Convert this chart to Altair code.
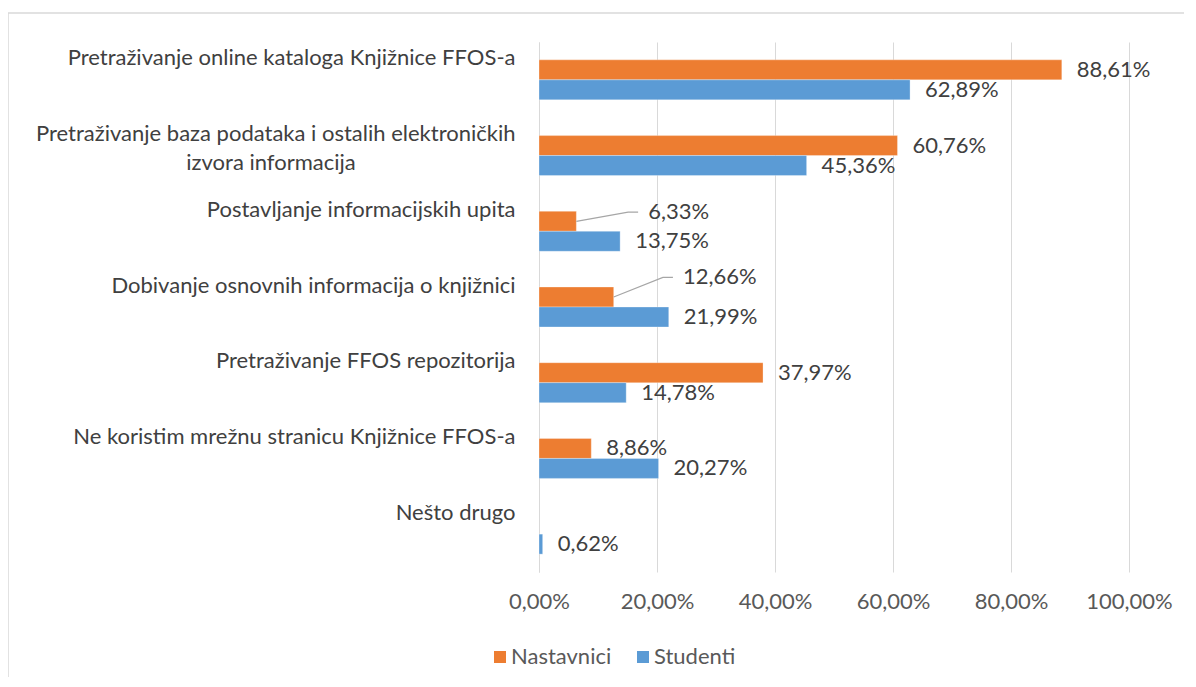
import json
import altair as alt
import pandas as pd

# ---- data ----
categories = [
    "Pretraživanje online kataloga Knjižnice FFOS-a",
    "Pretraživanje baza podataka i ostalih elektroničkih\nizvora informacija",
    "Postavljanje informacijskih upita ",
    "Dobivanje osnovnih informacija o knjižnici ",
    "Pretraživanje FFOS repozitorija",
    "Ne koristim mrežnu stranicu Knjižnice FFOS-a",
    "Nešto drugo ",
]
series = ["Nastavnici", "Studenti"]
nastavnici = [88.61, 60.76, 6.33, 12.66, 37.97, 8.86, None]
studenti = [62.89, 45.36, 13.75, 21.99, 14.78, 20.27, 0.62]
colors = ["#ED7D31", "#5B9BD5"]
x_ticks = [0, 20, 40, 60, 80, 100]

# callout labels (Excel moved these labels and drew leader lines)
callout_category = [2, 3]
callout_label_x = [18.5, 24.4]
callout_shift = [-0.12, -0.26]

FONT = "Lato"
FS = 22
HALF = 0.264

rows = []
for s_i, (s, vals) in enumerate(zip(series, [nastavnici, studenti])):
    for i, v in enumerate(vals):
        if v is None:
            continue
        top = i - HALF if s_i == 0 else i
        bot = i if s_i == 0 else i + HALF
        mid = (top + bot) / 2
        lab_x, lab_y, call = v, mid, 0
        if s_i == 0 and i in callout_category:
            k = callout_category.index(i)
            lab_x, lab_y, call = callout_label_x[k], mid + callout_shift[k], 1
        rows.append(dict(cat=i, series=s, value=v, top=top, bot=bot, mid=mid,
                         lab_x=lab_x, lab_y=lab_y, call=call,
                         label=f"{v:.2f}".replace(".", ",") + "%"))
df = pd.DataFrame(rows)

lines = []
for k, i in enumerate(callout_category):
    v = nastavnici[i]
    mid = i - HALF / 2
    ly = mid + callout_shift[k]
    lx = callout_label_x[k]
    for o, (px, py) in enumerate([(v, mid), (lx - 3.4, ly), (lx - 1.7, ly)]):
        lines.append(dict(id=k, o=o, x=px, y=py))
df_lines = pd.DataFrame(lines)

second_lines = pd.DataFrame([
    dict(pos=i, text=c.split("\n")[1]) for i, c in enumerate(categories) if "\n" in c
])


def keep_trailing(s):
    # SVG collapses a trailing space; keep it visible as a no-break space
    return s[:-1] + "\u00a0" if s.endswith(" ") else s


first_lines = json.dumps([keep_trailing(c.split("\n")[0]) for c in categories],
                         ensure_ascii=False)

xscale = alt.Scale(domain=[0, 100], nice=False)
yscale = alt.Scale(domain=[-0.5, len(categories) - 0.5], reverse=True, nice=False, zero=False)

bars = alt.Chart(df).mark_bar(stroke="white", strokeWidth=0.5, strokeOpacity=0.6).encode(
    x=alt.X("value:Q", scale=xscale, axis=alt.Axis(
        values=x_ticks, grid=True, gridColor="#D9D9D9", domain=False, ticks=False,
        labelExpr="replace(format(datum.value, '.2f'), '.', ',') + '%'",
        labelFontSize=FS, labelColor="#595959", labelPadding=19,
        labelFlush=False, labelOverlap=False, title=None)),
    x2=alt.X2(datum=0),
    y=alt.Y("top:Q", scale=yscale, axis=alt.Axis(
        values=list(range(len(categories))), grid=False, ticks=False,
        domain=True, domainColor="#D9D9D9",
        labelExpr=first_lines + "[datum.value]",
        labelFontSize=FS, labelColor="#404040", labelPadding=24,
        labelBaseline="middle", labelOffset=-22, labelAlign="right",
        labelLimit=0, labelFlush=False,
        labelOverlap=False, labelBound=False, title=None)),
    y2="bot:Q",
    color=alt.Color("series:N", scale=alt.Scale(domain=series, range=colors),
                    legend=alt.Legend(orient="none", legendX=-50, legendY=604,
                                      direction="horizontal", title=None,
                                      symbolType="square", symbolSize=144,
                                      symbolStrokeWidth=0, labelFontSize=FS,
                                      labelColor="#595959", columnPadding=20,
                                      labelOffset=0, padding=0, labelLimit=0)),
)

labels_plain = alt.Chart(df).transform_filter("datum.call == 0").mark_text(
    align="left", baseline="middle", fontSize=FS, color="#404040", dx=15).encode(
    x=alt.X("lab_x:Q", scale=xscale),
    y=alt.Y("lab_y:Q", scale=yscale),
    text="label:N",
)
labels_call = alt.Chart(df).transform_filter("datum.call == 1").mark_text(
    align="left", baseline="middle", fontSize=FS, color="#404040").encode(
    x=alt.X("lab_x:Q", scale=xscale),
    y=alt.Y("lab_y:Q", scale=yscale),
    text="label:N",
)

leaders = alt.Chart(df_lines).mark_line(color="#A6A6A6", strokeWidth=1.2).encode(
    x=alt.X("x:Q", scale=xscale),
    y=alt.Y("y:Q", scale=yscale),
    detail="id:N",
    order="o:Q",
)

second = alt.Chart(second_lines).mark_text(align="center", baseline="middle",
                                           fontSize=FS, color="#404040", dy=7).encode(
    x=alt.value(-268),
    y=alt.Y("pos:Q", scale=yscale),
    text="text:N",
)

frame_df = pd.DataFrame({"k": [0]})
top_border = alt.Chart(frame_df).mark_rule(color="#D9D9D9", strokeWidth=1.5).encode(
    x=alt.value(-531), x2=alt.value(660), y=alt.value(-29))
left_border = alt.Chart(frame_df).mark_rule(color="#D9D9D9", strokeWidth=1.5).encode(
    x=alt.value(-531), y=alt.value(-29), y2=alt.value(650))

chart = alt.layer(top_border, left_border, bars, labels_plain, labels_call, leaders, second).properties(
    width=590, height=530,
    autosize=alt.AutoSizeParams(type="none"),
    padding={"left": 531, "top": 34, "right": 55, "bottom": 105},
).configure(font=FONT).configure_view(stroke=None)

chart.save("out.html", embed_options={"renderer": "svg", "actions": False})
